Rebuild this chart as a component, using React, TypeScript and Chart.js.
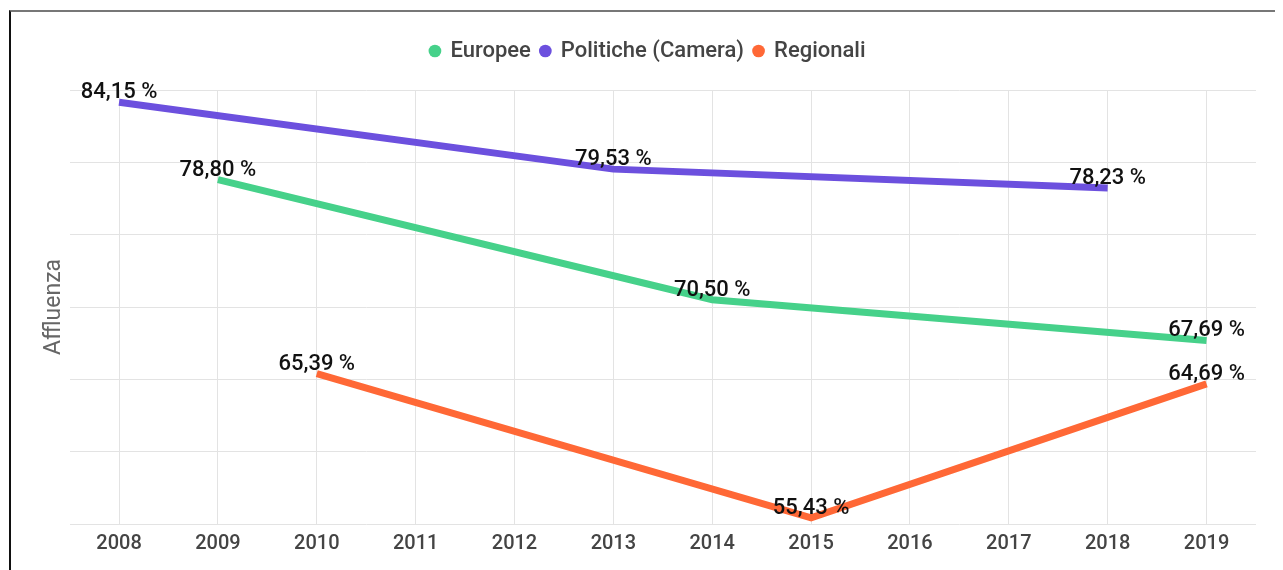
import React, { useEffect, useRef } from "react";
import { Chart, registerables } from "chart.js";

Chart.register(...registerables);

const years = ["2008", "2009", "2010", "2011", "2012", "2013", "2014", "2015", "2016", "2017", "2018", "2019"];
const europee = [null, 78.8, null, null, null, null, 70.5, null, null, null, null, 67.69];
const politiche = [84.15, null, null, null, null, 79.53, null, null, null, null, 78.23, null];
const regionali = [null, null, 65.39, null, null, null, null, 55.43, null, null, null, 64.69];
const seriesNames = ["Europee", "Politiche (Camera)", "Regionali"];
const seriesColors = ["#46d18a", "#6c50de", "#ff6836"];

const fmt = (v: number) => v.toFixed(2).replace(".", ",") + " %";

const labelPlugin = {
  id: "valueLabels",
  afterDatasetsDraw(chart: any) {
    const ctx = chart.ctx;
    ctx.save();
    ctx.font = "500 22px Roboto";
    ctx.fillStyle = "#111";
    ctx.textAlign = "center";
    ctx.textBaseline = "alphabetic";
    chart.data.datasets.forEach((ds: any, i: number) => {
      const meta = chart.getDatasetMeta(i);
      meta.data.forEach((pt: any, j: number) => {
        const v = ds.data[j];
        if (v == null) return;
        ctx.fillText(fmt(v), pt.x, pt.y - 4);
      });
    });
    ctx.restore();
  },
};

const legendGap = {
  id: "legendGap",
  beforeInit(chart: any) {
    const orig = chart.legend.fit;
    chart.legend.fit = function () {
      orig.bind(chart.legend)();
      this.height += 18;
    };
  },
};

export default function App() {
  const ref = useRef<HTMLCanvasElement>(null);
  useEffect(() => {
    if (!ref.current) return;
    const data = [europee, politiche, regionali];
    const chart = new Chart(ref.current, {
      type: "line",
      data: {
        labels: years,
        datasets: data.map((d, i) => ({
          label: seriesNames[i],
          data: d,
          borderColor: seriesColors[i],
          backgroundColor: seriesColors[i],
          borderWidth: 7,
          pointRadius: 0,
          pointHoverRadius: 0,
          spanGaps: true,
          tension: 0,
          fill: false,
        })),
      },
      options: {
        animation: false,
        responsive: false,
        layout: { padding: { top: 18, left: 29, right: 27, bottom: 6 } },
        plugins: {
          tooltip: { enabled: false },
          legend: {
            position: "top",
            labels: {
              usePointStyle: true,
              pointStyle: "circle",
              boxWidth: 9,
              boxHeight: 9,
              padding: 10,
              color: "#444",
              font: { family: "Roboto", size: 22, weight: "500" },
              generateLabels(chart: any) {
                const items = Chart.defaults.plugins.legend.labels.generateLabels(chart);
                return items.map((it: any) => ({ ...it, lineWidth: 0, strokeStyle: "rgba(0,0,0,0)" }));
              },
            },
          },
        },
        scales: {
          x: {
            offset: true,
            grid: { color: "#e3e3e3", drawTicks: false, offset: false },
            border: { display: false },
            ticks: { color: "#444", font: { family: "Roboto", size: 20, weight: "500" }, padding: 8 },
          },
          y: {
            min: 55,
            max: 85,
            ticks: { display: false, stepSize: 5 },
            grid: { color: "#e3e3e3", drawTicks: false },
            border: { display: false },
            title: {
              display: true,
              text: "Affluenza",
              color: "#666",
              font: { family: "Roboto", size: 23, weight: "400" },
              padding: { top: 0, bottom: 2 },
            },
          },
        },
      },
      plugins: [labelPlugin, legendGap],
    });
    return () => chart.destroy();
  }, []);
  return (
    <div style={{ marginTop: 2, marginLeft: 1, borderTop: "2px solid #777", borderLeft: "2px solid #111", width: 1274, height: 560, boxSizing: "border-box" }}>
      <canvas ref={ref} width={1272} height={558} style={{ display: "block" }} />
    </div>
  );
}
